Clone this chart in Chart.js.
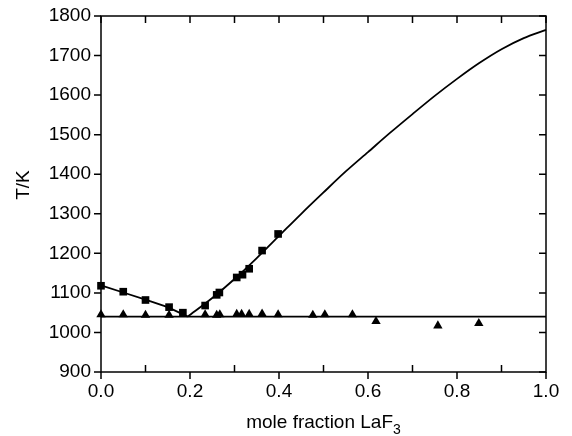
<!DOCTYPE html>
<html>
<head>
<title>LaF3 phase diagram</title>
<script src="https://cdn.jsdelivr.net/npm/chart.js@4.4.1/dist/chart.umd.min.js"></script>
<style>
body { margin: 0; background: #fff; }
#wrap { width: 572px; height: 436px; }
</style>
</head>
<body>
<div id="wrap"><canvas id="myChart" width="572" height="436"></canvas></div>
<script>
// liquidus measurements (squares)
var sqX = [0.0, 0.05, 0.10, 0.153, 0.184, 0.234, 0.26, 0.266, 0.305, 0.318, 0.333, 0.362, 0.398];
var sqT = [1118, 1103, 1082, 1064, 1050, 1068, 1095, 1101, 1139, 1146, 1161, 1207, 1249];
// solidus / eutectic measurements (triangles)
var triX = [0.0, 0.05, 0.10, 0.153, 0.234, 0.26, 0.267, 0.305, 0.316, 0.333, 0.362, 0.398, 0.476, 0.503, 0.565, 0.618, 0.757, 0.849];
var triT = [1045, 1045, 1044, 1044, 1045, 1044, 1045, 1046, 1046, 1046, 1047, 1045, 1044, 1045, 1045, 1028, 1017, 1023];
// calculated liquidus, NaF-rich side
var liqLeftX = [0.0, 0.05, 0.10, 0.15, 0.195];
var liqLeftT = [1119, 1101, 1083, 1064, 1040];
// calculated liquidus, LaF3-rich side
var liqRightX = [0.195, 0.25, 0.30, 0.35, 0.40, 0.45, 0.50, 0.55, 0.60, 0.65, 0.70, 0.75, 0.80, 0.85, 0.90, 0.95, 1.0];
var liqRightT = [1040, 1087, 1135, 1188, 1244, 1300, 1354, 1407, 1456, 1505, 1552, 1598, 1641, 1681, 1716, 1744, 1765];
// eutectic line
var eutX = [0.0, 1.0];
var eutT = [1040, 1040];

var yTicks = [900, 1000, 1100, 1200, 1300, 1400, 1500, 1600, 1700, 1800];
var xTicks = [0.0, 0.1, 0.2, 0.3, 0.4, 0.5, 0.6, 0.7, 0.8, 0.9, 1.0];

function pts(xs, ys) {
  return xs.map(function (x, i) { return { x: x, y: ys[i] }; });
}

var FONT = 'Liberation Sans, Arial, sans-serif';

var framePlugin = {
  id: 'frame',
  afterDraw: function (chart) {
    var ctx = chart.ctx, a = chart.chartArea;
    var xs = chart.scales.x, ys = chart.scales.y;
    var L = 7;
    ctx.save();
    ctx.strokeStyle = '#000';
    ctx.lineWidth = 1.5;
    ctx.strokeRect(a.left, a.top, a.right - a.left, a.bottom - a.top);
    ctx.beginPath();
    yTicks.forEach(function (v) {
      var p = ys.getPixelForValue(v);
      ctx.moveTo(a.left - L, p); ctx.lineTo(a.left, p);
      ctx.moveTo(a.right - L, p); ctx.lineTo(a.right, p);
    });
    xTicks.forEach(function (v, i) {
      var p = xs.getPixelForValue(v);
      if (i % 2 === 0) { ctx.moveTo(p, a.bottom); ctx.lineTo(p, a.bottom + L); }
      else { ctx.moveTo(p, a.bottom); ctx.lineTo(p, a.bottom - L); }
      ctx.moveTo(p, a.top); ctx.lineTo(p, a.top + L);
    });
    ctx.stroke();

    // axis titles
    ctx.fillStyle = '#000';
    ctx.textBaseline = 'alphabetic';
    var main = 'mole fraction LaF';
    ctx.font = '19px ' + FONT;
    var w1 = ctx.measureText(main).width;
    ctx.font = '14px ' + FONT;
    var w2 = ctx.measureText('3').width;
    var cx = (a.left + a.right) / 2;
    var x0 = cx - (w1 + w2) / 2;
    ctx.font = '19px ' + FONT;
    ctx.textAlign = 'left';
    ctx.fillText(main, x0, 428);
    ctx.font = '14px ' + FONT;
    ctx.fillText('3', x0 + w1, 434);

    ctx.save();
    ctx.translate(29, (a.top + a.bottom) / 2 - 9);
    ctx.rotate(-Math.PI / 2);
    ctx.textAlign = 'center';
    ctx.font = '19px ' + FONT;
    ctx.fillText('T/K', 0, 0);
    ctx.restore();
    ctx.restore();
  }
};

var ctx = document.getElementById('myChart').getContext('2d');
var chart = new Chart(ctx, {
  type: 'scatter',
  data: {
    datasets: [
      { data: pts(eutX, eutT), showLine: true, borderColor: '#000', borderWidth: 1.8, pointRadius: 0, clip: false },
      { data: pts(liqLeftX, liqLeftT), showLine: true, borderColor: '#000', borderWidth: 1.8, pointRadius: 0, clip: false },
      { data: pts(liqRightX, liqRightT), showLine: true, borderColor: '#000', borderWidth: 1.8, pointRadius: 0, tension: 0.3, clip: false },
      { data: pts(sqX, sqT), pointStyle: 'rect', pointRadius: 5.4, pointBackgroundColor: '#000', pointBorderColor: '#000', pointBorderWidth: 0, clip: false },
      { data: pts(triX, triT), pointStyle: 'triangle', pointRadius: 5.4, pointBackgroundColor: '#000', pointBorderColor: '#000', pointBorderWidth: 0, clip: false }
    ]
  },
  options: {
    responsive: false,
    animation: false,
    layout: { padding: { top: 16, right: 26, left: 0, bottom: 0 } },
    plugins: { legend: { display: false }, tooltip: { enabled: false } },
    scales: {
      x: {
        type: 'linear', min: 0, max: 1,
        grid: { display: false, drawTicks: false },
        border: { display: false },
        afterFit: function (s) { s.height = 64; },
        afterBuildTicks: function (s) { s.ticks = [0, 0.2, 0.4, 0.6, 0.8, 1.0].map(function (v) { return { value: v }; }); },
        ticks: { color: '#000', font: { family: FONT, size: 19 }, padding: 8, maxRotation: 0,
          callback: function (v) { return v.toFixed(1); } }
      },
      y: {
        type: 'linear', min: 900, max: 1800,
        grid: { display: false, drawTicks: false },
        border: { display: false },
        afterFit: function (s) { s.width = 101; s.paddingTop = 0; s.paddingBottom = 0; },
        afterBuildTicks: function (s) { s.ticks = yTicks.map(function (v) { return { value: v }; }); },
        ticks: { color: '#000', font: { family: FONT, size: 19 }, padding: 10,
          callback: function (v) { return String(v); } }
      }
    }
  },
  plugins: [framePlugin]
});
</script>
</body>
</html>
